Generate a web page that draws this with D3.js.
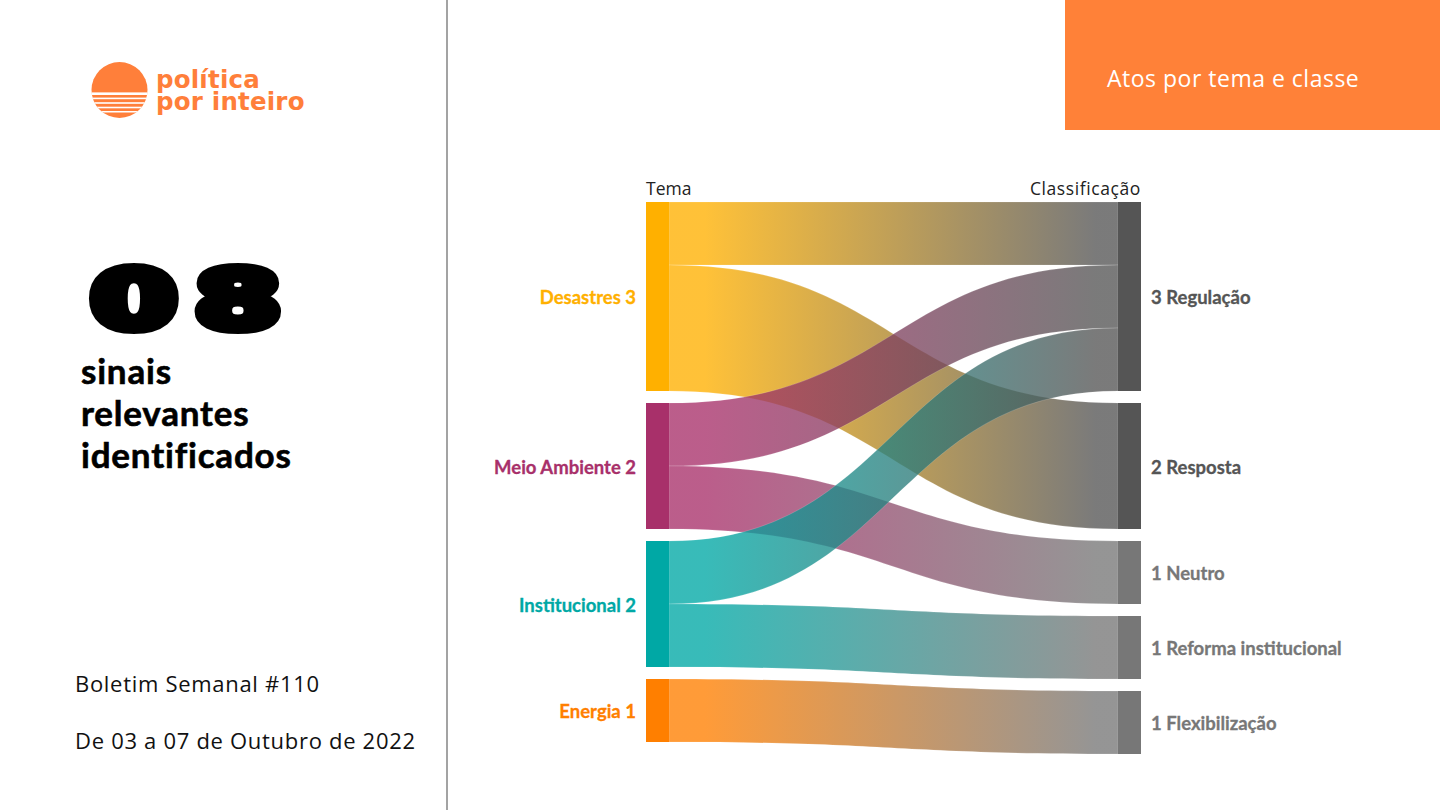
<!DOCTYPE html>
<html><head><meta charset="utf-8">
<script src="https://cdn.jsdelivr.net/npm/d3@7"></script>
<style>body{margin:0;background:#fff;} svg{display:block}</style>
</head><body><svg id="c" width="1440" height="810"></svg>
<script>
// ---- data ----
const temas = ["Desastres", "Meio Ambiente", "Institucional", "Energia"];
const temaColors = ["#FFB000", "#A8306A", "#00A8A5", "#FF7F00"];
const classes = ["Regulação", "Resposta", "Neutro", "Reforma institucional", "Flexibilização"];
const classColors = ["#555555", "#555555", "#777777", "#777777", "#777777"];
const linkSource = ["Desastres", "Desastres", "Meio Ambiente", "Meio Ambiente", "Institucional", "Institucional", "Energia"];
const linkTarget = ["Regulação", "Resposta", "Regulação", "Neutro", "Regulação", "Reforma institucional", "Flexibilização"];
const linkValue = [1, 2, 1, 1, 1, 1, 1];
const columnTitles = ["Tema", "Classificação"];

const svg = d3.select("#c");

// ---- left panel ----
const logo = svg.append("g");
const defs = svg.append("defs");
defs.append("clipPath").attr("id", "logoClip").append("circle").attr("cx", 119.5).attr("cy", 90).attr("r", 28);
const lg = logo.append("g").attr("clip-path", "url(#logoClip)");
lg.append("rect").attr("x", 90).attr("y", 60).attr("width", 60).attr("height", 60).attr("fill", "#FF7F3A");
[[92.4, 2.6], [97.6, 1.6], [102.2, 1.6], [106.7, 1.6], [111.0, 1.5]].forEach(([y, hh]) => {
  lg.append("rect").attr("x", 88).attr("y", y).attr("width", 64).attr("height", hh).attr("fill", "#fff");
});
const logoText = logo.append("text")
  .attr("font-family", "DejaVu Sans").attr("font-weight", 700).attr("font-size", 24.5).attr("letter-spacing", 0.2).attr("fill", "#FF7F3A");
logoText.append("tspan").attr("x", 156).attr("y", 87.5).text("política");
logoText.append("tspan").attr("x", 156).attr("y", 109.5).text("por inteiro");

// big number
const big = svg.append("g");
[["0", 134], ["8", 238]].forEach(([ch, cx]) => {
  big.append("text").attr("transform", `translate(${cx},328) scale(1.55,1)`)
    .attr("text-anchor", "middle").text(ch)
    .attr("font-family", "DejaVu Sans").attr("font-weight", 700).attr("font-size", 80)
    .attr("fill", "#000").attr("stroke", "#000").attr("stroke-width", 10).attr("stroke-linejoin", "round");
});

const subLines = ["sinais", "relevantes", "identificados"];
svg.append("g").selectAll("text").data(subLines).join("text")
  .attr("x", 81).attr("y", (d, i) => 384 + i * 42).text(d => d)
  .attr("font-family", "Lato").attr("font-weight", 700).attr("font-size", 35).attr("letter-spacing", 0.8)
  .attr("fill", "#000").attr("stroke", "#000").attr("stroke-width", 0.6);

svg.append("text").attr("x", 75).attr("y", 692).text("Boletim Semanal #110")
  .attr("font-family", "Open Sans").attr("font-size", 22).attr("letter-spacing", 0.7).attr("fill", "#111");
svg.append("text").attr("x", 75).attr("y", 749).text("De 03 a 07 de Outubro de 2022")
  .attr("font-family", "Open Sans").attr("font-size", 22).attr("letter-spacing", 0.7).attr("fill", "#111");

svg.append("line").attr("x1", 447).attr("x2", 447).attr("y1", 0).attr("y2", 810)
  .attr("stroke", "#8c8c8c").attr("stroke-width", 1.6);

// header box
svg.append("rect").attr("x", 1065).attr("y", 0).attr("width", 375).attr("height", 130).attr("fill", "#FF8138");
svg.append("text").attr("x", 1107).attr("y", 87).text("Atos por tema e classe")
  .attr("font-family", "Open Sans").attr("font-size", 23).attr("letter-spacing", 0.5).attr("fill", "#fff");

// ---- sankey layout ----
const topY = 202, gap = 12, nodeW = 23;
const h = d3.scaleLinear().domain([0, 1]).range([0, 63]);
const colX = d3.scaleLinear().domain([0, 1]).range([646, 1118]);

const links = linkSource.map((s, i) => ({ s, t: linkTarget[i], v: linkValue[i] }));
function buildCol(names, colors, col, key) {
  let y = topY;
  return names.map((n, i) => {
    const v = d3.sum(links.filter(l => l[key] === n), l => l.v);
    const node = { name: n, color: colors[i], col, index: i, value: v, x0: colX(col), x1: colX(col) + nodeW, y0: y, y1: y + h(v) };
    y = node.y1 + gap;
    return node;
  });
}
const left = buildCol(temas, temaColors, 0, "s");
const right = buildCol(classes, classColors, 1, "t");
const L = new Map(left.map(n => [n.name, n]));
const R = new Map(right.map(n => [n.name, n]));
links.forEach(l => { l.src = L.get(l.s); l.tgt = R.get(l.t); });
left.forEach(n => {
  let y = n.y0;
  links.filter(l => l.src === n).sort((a, b) => a.tgt.index - b.tgt.index).forEach(l => { l.sy0 = y; y += h(l.v); l.sy1 = y; });
});
right.forEach(n => {
  let y = n.y0;
  links.filter(l => l.tgt === n).sort((a, b) => a.src.index - b.src.index).forEach(l => { l.ty0 = y; y += h(l.v); l.ty1 = y; });
});

// gradients
links.forEach((l, i) => {
  const g = defs.append("linearGradient").attr("id", "lg" + i).attr("gradientUnits", "userSpaceOnUse")
    .attr("x1", l.src.x1).attr("x2", l.tgt.x0).attr("y1", 0).attr("y2", 0);
  g.append("stop").attr("offset", 0.08).attr("stop-color", l.src.color);
  g.append("stop").attr("offset", 0.95).attr("stop-color", l.tgt.color);
});

function bandPath(l) {
  const x0 = l.src.x1, x1 = l.tgt.x0, xm = (x0 + x1) / 2;
  const p = d3.path();
  p.moveTo(x0, l.sy0);
  p.bezierCurveTo(xm, l.sy0, xm, l.ty0, x1, l.ty0);
  p.lineTo(x1, l.ty1);
  p.bezierCurveTo(xm, l.ty1, xm, l.sy1, x0, l.sy1);
  p.closePath();
  return p.toString();
}

const linkG = svg.append("g");
linkG.selectAll("path").data(links).join("path")
  .attr("d", bandPath)
  .attr("fill", (d, i) => `url(#lg${i})`)
  .attr("fill-opacity", 0.78)
  .attr("stroke", "#fff").attr("stroke-opacity", 0.25).attr("stroke-width", 0.6);

const nodes = left.concat(right);
svg.append("g").selectAll("rect").data(nodes).join("rect")
  .attr("x", d => d.x0).attr("y", d => d.y0).attr("width", nodeW).attr("height", d => d.y1 - d.y0)
  .attr("fill", d => d.color);

// labels
svg.append("g").selectAll("text").data(left).join("text")
  .attr("x", d => d.x0 - 10).attr("y", d => (d.y0 + d.y1) / 2).attr("dy", "0.42em")
  .attr("text-anchor", "end").text(d => `${d.name} ${d.value}`)
  .attr("font-family", "Lato").attr("font-weight", 700).attr("font-size", 18.5).attr("fill", d => d.color)
  .attr("stroke", d => d.color).attr("stroke-width", 0.3);
svg.append("g").selectAll("text").data(right).join("text")
  .attr("x", d => d.x1 + 10).attr("y", d => (d.y0 + d.y1) / 2).attr("dy", "0.42em")
  .attr("text-anchor", "start").text(d => `${d.value} ${d.name}`)
  .attr("font-family", "Lato").attr("font-weight", 700).attr("font-size", 18.5).attr("fill", d => d.color)
  .attr("stroke", d => d.color).attr("stroke-width", 0.3);

svg.append("text").attr("x", colX(0)).attr("y", 195).text(columnTitles[0])
  .attr("font-family", "Open Sans").attr("font-size", 17.5).attr("fill", "#222");
svg.append("text").attr("x", colX(1) + nodeW).attr("y", 195).attr("text-anchor", "end").text(columnTitles[1])
  .attr("font-family", "Open Sans").attr("font-size", 17.5).attr("letter-spacing", 0.6).attr("fill", "#222");
</script></body></html>
